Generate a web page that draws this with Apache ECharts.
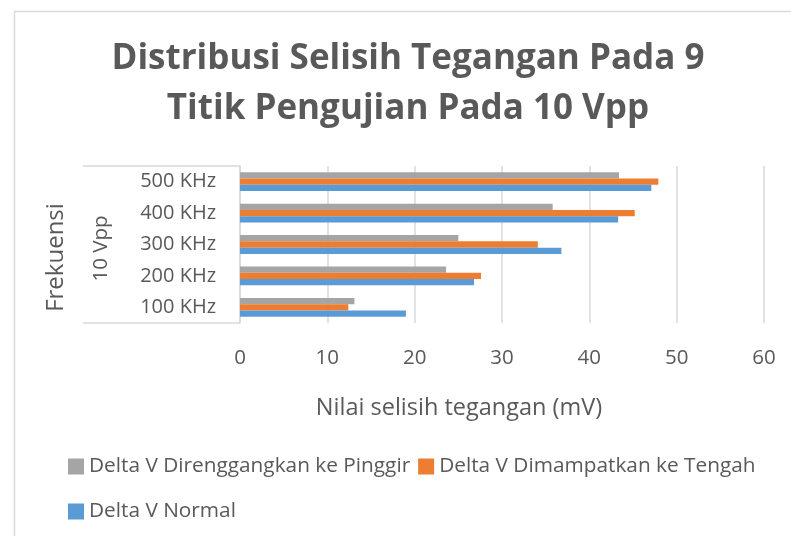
<!DOCTYPE html>
<html><head><meta charset="utf-8">
<script src="https://cdn.jsdelivr.net/npm/echarts@6/dist/echarts.min.js"></script>
<style>html,body{margin:0;padding:0;background:#fff}#c{width:791px;height:536px}</style>
</head><body><div id="c"></div>
<script>
const categories = ['100 KHz', '200 KHz', '300 KHz', '400 KHz', '500 KHz'];
const groupLabel = ['10 Vpp'];
const deltaDirenggangkan = [13.1, 23.6, 25.0, 35.8, 43.4];
const deltaDimampatkan = [12.4, 27.6, 34.1, 45.2, 47.9];
const deltaNormal = [19.0, 26.8, 36.8, 43.3, 47.1];
const xTicks = [0, 10, 20, 30, 40, 50, 60];

const FONT = 'Open Sans';
const TXT = '#595959';
const chart = echarts.init(document.getElementById('c'));
chart.setOption({
  animation: false,
  textStyle: { fontFamily: FONT },
  title: {
    text: 'Distribusi Selisih Tegangan Pada 9\nTitik Pengujian Pada 10 Vpp',
    left: 403, top: 29, textAlign: 'center',
    textStyle: { fontFamily: FONT, fontSize: 35, fontWeight: 'bold', color: TXT, lineHeight: 50, align: 'center' }
  },
  graphic: [{
    type: 'rect', left: 12, top: 9, shape: { width: 820, height: 600 },
    style: { fill: 'none', stroke: '#d9d9d9', lineWidth: 1.5 }, silent: true
  }],
  legend: [{
    data: ['Delta V Direnggangkan ke Pinggir', 'Delta V Dimampatkan ke Tengah'],
    left: 63, top: 451, itemWidth: 16, itemHeight: 16, itemGap: 8,
    icon: 'rect', textStyle: { fontFamily: FONT, fontSize: 20.8, color: TXT }
  }, {
    data: ['Delta V Normal'],
    left: 63, top: 496, itemWidth: 16, itemHeight: 16, itemGap: 8,
    icon: 'rect', textStyle: { fontFamily: FONT, fontSize: 20.8, color: TXT }
  }],
  grid: { left: 240, right: 27, top: 166, bottom: 213 },
  xAxis: {
    type: 'value', min: xTicks[0], max: xTicks[xTicks.length - 1], interval: 10,
    axisLine: { show: false }, axisTick: { show: false },
    splitLine: { lineStyle: { color: '#d9d9d9', width: 1.5 } },
    axisLabel: { fontSize: 20.5, color: TXT, margin: 25, fontFamily: FONT },
    name: 'Nilai selisih tegangan (mV)', nameLocation: 'middle', nameGap: 73,
    nameTextStyle: { fontSize: 23.5, color: TXT, fontFamily: FONT, padding: [0, 86, 0, 0] }
  },
  yAxis: [{
    type: 'category', data: categories,
    axisLine: { show: true, lineStyle: { color: '#d9d9d9', width: 1.5 } },
    axisTick: { show: false },
    axisLabel: { fontSize: 20, color: TXT, margin: 24, fontFamily: FONT }
  }, {
    type: 'category', data: groupLabel, position: 'left',
    axisLine: { show: false },
    axisTick: { show: true, length: 157, lineStyle: { color: '#d9d9d9', width: 1.5 } },
    axisLabel: { fontSize: 20.5, color: TXT, margin: 128, rotate: 90, fontFamily: FONT, padding: [0, 8, 0, 0] },
    name: 'Frekuensi', nameLocation: 'middle', nameGap: 172, nameRotate: 90,
    nameTextStyle: { fontSize: 24, color: TXT, fontFamily: FONT, padding: [0, 26, 0, 0] }
  }],
  series: [
    { name: 'Delta V Direnggangkan ke Pinggir', type: 'bar', data: deltaDirenggangkan, itemStyle: { color: '#a5a5a5' }, barGap: '0%', barCategoryGap: '40%' },
    { name: 'Delta V Dimampatkan ke Tengah', type: 'bar', data: deltaDimampatkan, itemStyle: { color: '#ed7d31' }, barGap: '0%', barCategoryGap: '40%' },
    { name: 'Delta V Normal', type: 'bar', data: deltaNormal, itemStyle: { color: '#5b9bd5' }, barGap: '0%', barCategoryGap: '40%' }
  ]
});
</script></body></html>
